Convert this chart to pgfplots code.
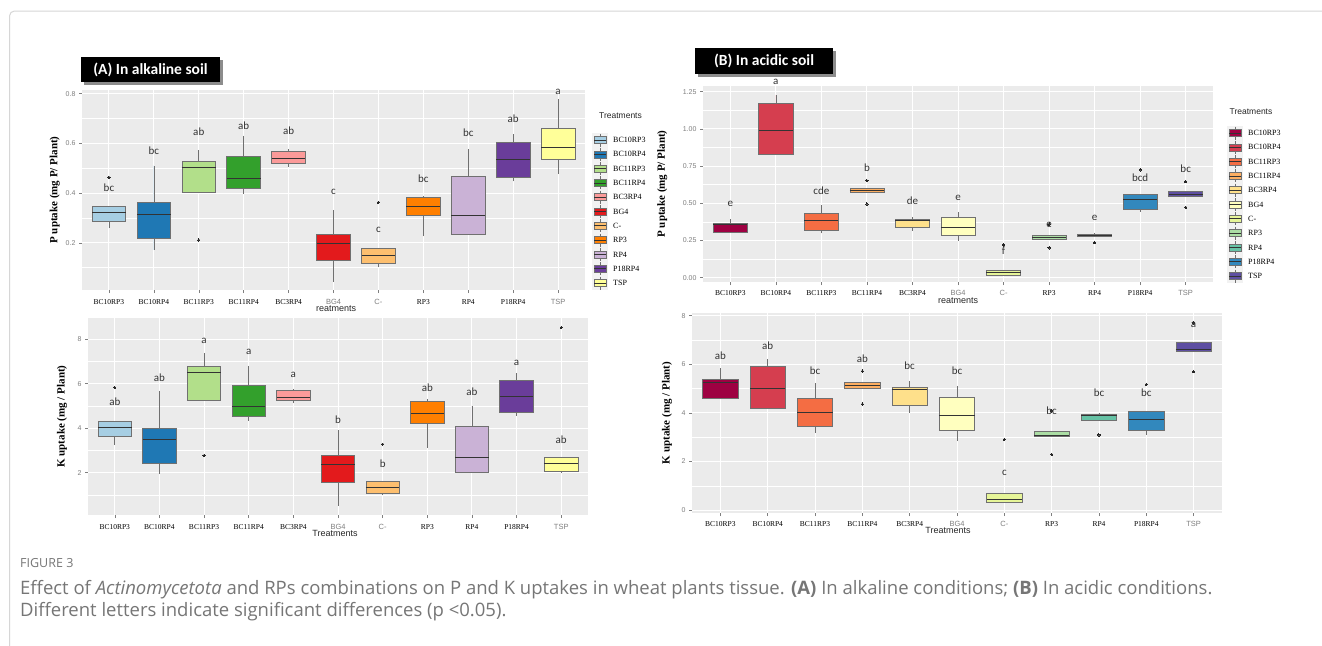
\documentclass[border=0pt]{standalone}
\usepackage{pgfplots}
\pgfplotsset{compat=1.18}
\usepgfplotslibrary{statistics}
\usepackage{fontspec}
\setmainfont{Liberation Serif}
\setsansfont{Liberation Sans}
\newfontfamily\carl{Carlito}
\newfontfamily\osans{Open Sans}

\definecolor{panelbg}{HTML}{EBEBEB}
\definecolor{tickgray}{HTML}{7F7F7F}
\definecolor{boxgray}{HTML}{707070}
\definecolor{labc}{HTML}{333333}
\definecolor{capc}{HTML}{767676}
\definecolor{framec}{HTML}{D6D6D6}
% Paired palette (A)
\definecolor{a1}{HTML}{A6CEE3}\definecolor{a2}{HTML}{1F78B4}\definecolor{a3}{HTML}{B2DF8A}
\definecolor{a4}{HTML}{33A02C}\definecolor{a5}{HTML}{FB9A99}\definecolor{a6}{HTML}{E31A1C}
\definecolor{a7}{HTML}{FDBF6F}\definecolor{a8}{HTML}{FF7F00}\definecolor{a9}{HTML}{CAB2D6}
\definecolor{a10}{HTML}{6A3D9A}\definecolor{a11}{HTML}{FFFF99}
% Spectral palette (B)
\definecolor{b1}{HTML}{9E0142}\definecolor{b2}{HTML}{D53E4F}\definecolor{b3}{HTML}{F46D43}
\definecolor{b4}{HTML}{FDAE61}\definecolor{b5}{HTML}{FEE08B}\definecolor{b6}{HTML}{FFFFBF}
\definecolor{b7}{HTML}{E6F598}\definecolor{b8}{HTML}{ABDDA4}\definecolor{b9}{HTML}{66C2A5}
\definecolor{b10}{HTML}{3288BD}\definecolor{b11}{HTML}{5E4FA2}

\newcommand{\Sx}[2]{\raisebox{#2}{\sffamily\fontsize{7.5}{8}\selectfont\color{tickgray}#1}}
\newcommand{\bx}[8]{\addplot[bxs, fill=#7, boxplot prepared={draw position=#1, lower whisker=#2, lower quartile=#3, median=#4, upper quartile=#5, upper whisker=#6}] coordinates {#8};}

\pgfplotsset{
 panel/.style={scale only axis, anchor=north west, xmin=0.4, xmax=11.6, clip=false,
  axis background/.style={fill=panelbg}, axis line style={draw=none},
  xtick={1,...,11}, xmajorgrids, ymajorgrids, yminorgrids,
  major grid style={white, line width=0.9pt}, minor grid style={white, line width=0.45pt},
  tick style={draw=tickgray, line width=0.5pt}, major tick length=3pt, minor tick length=0pt,
  tick align=outside, xtick pos=bottom, ytick pos=left,
  /pgf/number format/assume math mode=true,
  yticklabel style={font=\sffamily\fontsize{7}{8}\selectfont, text=tickgray},
  xticklabel style={font=\rmfamily\fontsize{7.5}{8}\selectfont, text=black},
  ylabel style={font=\rmfamily\bfseries\fontsize{11}{12}\selectfont, anchor=center},
  xlabel style={font=\sffamily\fontsize{9}{10}\selectfont, text=black!85, anchor=center},
  boxplot/draw direction=y,
  boxplot/whisker extend=0, boxplot/box extend=0.75,
  boxplot/every median/.style={draw=black!80, line width=1pt},
 },
 bxs/.style={draw=boxgray, line width=0.7pt, mark=*, mark size=1.15pt,
  mark options={fill=black!85, draw=black!85, line width=0pt}},
 labs/.style={draw=none, mark=none, nodes near coords, point meta=explicit symbolic,
  every node near coord/.append style={font=\carl\fontsize{11}{12}\selectfont, text=labc, anchor=center, inner sep=0pt}},
}

\begin{document}
\begin{tikzpicture}
\useasboundingbox (0,0) rectangle (1322pt,-645pt);
\fill[white] (0,0) rectangle (1322pt,-645pt);
\draw[framec, line width=1pt, rounded corners=5pt] (9.5pt,-11pt) rectangle (1345pt,-680pt);

% ---------------- A : P uptake, alkaline
\begin{axis}[panel, at={(82pt,-90pt)}, width=503pt, height=200pt,
  ymin=0.01, ymax=0.815, ytick={0.2,0.4,0.6,0.8}, minor ytick={0.1,0.3,0.5,0.7},
  xticklabel style={yshift=-3pt},
  xticklabels={BC10RP3,BC10RP4,BC11RP3,BC11RP4,BC3RP4,\Sx{BG4}{6pt},\Sx{C-}{6pt},RP3,RP4,P18RP4,\Sx{TSP}{6pt}},
  ylabel={P uptake (mg P/ Plant)}, ylabel style={at={(axis description cs:-0.054,0.5)}},
  xlabel={reatments}, xlabel style={at={(axis description cs:0.505,-0.092)}}]
\bx{1}{0.258}{0.288}{0.323}{0.345}{0.345}{a1}{(0,0.464)}
\bx{2}{0.172}{0.218}{0.313}{0.361}{0.511}{a2}{}
\bx{3}{0.404}{0.404}{0.502}{0.527}{0.572}{a3}{(0,0.211)}
\bx{4}{0.398}{0.420}{0.457}{0.548}{0.630}{a4}{}
\bx{5}{0.507}{0.521}{0.540}{0.570}{0.576}{a5}{}
\bx{6}{0.044}{0.131}{0.199}{0.235}{0.332}{a6}{}
\bx{7}{0.104}{0.118}{0.148}{0.177}{0.177}{a7}{(0,0.363)}
\bx{8}{0.226}{0.312}{0.346}{0.382}{0.388}{a8}{}
\bx{9}{0.234}{0.234}{0.309}{0.468}{0.576}{a9}{}
\bx{10}{0.447}{0.463}{0.535}{0.605}{0.637}{a10}{}
\bx{11}{0.475}{0.534}{0.583}{0.660}{0.777}{a11}{}
\addplot[labs] table[meta=t] {
x y t
1 0.420 bc
2 0.572 bc
3 0.646 ab
4 0.673 ab
5 0.653 ab
6 0.404 c
7 0.253 c
8 0.458 bc
9 0.642 bc
10 0.700 ab
11 0.807 a
};
\end{axis}

% ---------------- A : K uptake, alkaline
\begin{axis}[panel, at={(88pt,-318pt)}, width=500pt, height=197pt,
  ymin=0.09, ymax=8.96, ytick={2,4,6,8}, minor ytick={1,3,5,7},
  xticklabel style={yshift=-3pt},
  xticklabels={BC10RP3,BC10RP4,BC11RP3,BC11RP4,BC3RP4,\Sx{BG4}{10pt},\Sx{C-}{8pt},RP3,RP4,P18RP4,\Sx{TSP}{8pt}},
  ylabel={K uptake (mg / Plant)}, ylabel style={at={(axis description cs:-0.052,0.5)}},
  xlabel={Treatments}, xlabel style={at={(axis description cs:0.494,-0.094)}}]
\bx{1}{3.24}{3.62}{4.03}{4.30}{4.30}{a1}{(0,5.83)}
\bx{2}{1.93}{2.42}{3.50}{4.00}{5.68}{a2}{}
\bx{3}{5.24}{5.24}{6.52}{6.80}{7.37}{a3}{(0,2.77)}
\bx{4}{4.33}{4.55}{4.97}{5.92}{6.80}{a4}{}
\bx{5}{5.12}{5.27}{5.39}{5.69}{5.75}{a5}{}
\bx{6}{0.50}{1.55}{2.35}{2.77}{3.92}{a6}{}
\bx{7}{1.00}{1.07}{1.33}{1.60}{1.60}{a7}{(0,3.28)}
\bx{8}{3.10}{4.22}{4.67}{5.22}{5.30}{a8}{}
\bx{9}{2.00}{2.00}{2.67}{4.07}{5.00}{a9}{}
\bx{10}{4.55}{4.72}{5.42}{6.14}{6.47}{a10}{}
\bx{11}{2.00}{2.05}{2.42}{2.67}{2.67}{a11}{(0,8.53)}
\addplot[labs] table[meta=t] {
x y t
1 5.17 ab
2 6.25 ab
3 7.93 a
4 7.42 a
5 6.40 a
6 4.40 b
7 2.38 b
8 5.80 ab
9 5.65 ab
10 6.92 a
11 3.47 ab
};
\end{axis}

% ---------------- B : P uptake, acidic
\begin{axis}[panel, at={(703pt,-86pt)}, width=510pt, height=196pt,
  ymin=-0.029, ymax=1.288, ytick={0,0.25,0.5,0.75,1,1.25}, yticklabels={0.00,0.25,0.50,0.75,1.00,1.25},
  minor ytick={0.125,0.375,0.625,0.875,1.125},
  xticklabel style={yshift=-2pt},
  xticklabels={BC10RP3,BC10RP4,BC11RP3,BC11RP4,BC3RP4,\Sx{BG4}{4pt},\Sx{C-}{4pt},RP3,RP4,P18RP4,\Sx{TSP}{4pt}},
  ylabel={P uptake (mg P/ Plant)}, ylabel style={at={(axis description cs:-0.080,0.5)}},
  xlabel={reatments}, xlabel style={at={(axis description cs:0.50,-0.095)}}]
\bx{1}{0.305}{0.305}{0.360}{0.365}{0.394}{b1}{}
\bx{2}{0.829}{0.829}{0.988}{1.170}{1.228}{b2}{}
\bx{3}{0.298}{0.320}{0.381}{0.432}{0.488}{b3}{}
\bx{4}{0.571}{0.571}{0.585}{0.600}{0.600}{b4}{(0,0.652) (0,0.495)}
\bx{5}{0.314}{0.336}{0.385}{0.392}{0.405}{b5}{}
\bx{6}{0.249}{0.282}{0.336}{0.405}{0.439}{b6}{}
\bx{7}{0.018}{0.018}{0.036}{0.052}{0.052}{b7}{(0,0.220)}
\bx{8}{0.260}{0.260}{0.271}{0.282}{0.282}{b8}{(0,0.360) (0,0.200)}
\bx{9}{0.276}{0.276}{0.285}{0.293}{0.300}{b9}{(0,0.235)}
\bx{10}{0.444}{0.459}{0.526}{0.562}{0.562}{b10}{(0,0.724)}
\bx{11}{0.544}{0.544}{0.556}{0.582}{0.582}{b11}{(0,0.645) (0,0.473)}
\addplot[labs] table[meta=t] {
x y t
1 0.493 e
2 1.317 a
3 0.585 cde
4 0.739 b
5 0.517 de
6 0.533 e
7 0.181 f
8 0.355 e
9 0.399 e
10 0.672 bcd
11 0.730 bc
};
\end{axis}

% ---------------- B : K uptake, acidic
\begin{axis}[panel, at={(692pt,-313pt)}, width=530pt, height=200pt,
  ymin=-0.12, ymax=8.11, ytick={0,2,4,6,8}, minor ytick={1,3,5,7},
  xticklabel style={yshift=-2pt},
  xticklabels={BC10RP3,BC10RP4,BC11RP3,BC11RP4,BC3RP4,\Sx{BG4}{6pt},\Sx{C-}{5pt},RP3,RP4,P18RP4,\Sx{TSP}{5pt}},
  ylabel={K uptake (mg / Plant)}, ylabel style={at={(axis description cs:-0.047,0.5)}},
  xlabel={Treatments}, xlabel style={at={(axis description cs:0.483,-0.088)}}]
\bx{1}{4.60}{4.60}{5.25}{5.39}{5.83}{b1}{}
\bx{2}{4.18}{4.18}{5.00}{5.93}{6.21}{b2}{}
\bx{3}{3.18}{3.46}{4.02}{4.60}{5.21}{b3}{}
\bx{4}{5.00}{5.00}{5.14}{5.24}{5.24}{b4}{(0,5.72) (0,4.36)}
\bx{5}{4.00}{4.32}{4.97}{5.05}{5.31}{b5}{}
\bx{6}{2.84}{3.29}{3.91}{4.64}{5.10}{b6}{}
\bx{7}{0.32}{0.32}{0.44}{0.69}{0.69}{b7}{(0,2.91)}
\bx{8}{3.05}{3.05}{3.06}{3.25}{3.25}{b8}{(0,2.29) (0,4.08)}
\bx{9}{3.70}{3.70}{3.91}{3.95}{4.00}{b9}{(0,3.09)}
\bx{10}{3.11}{3.29}{3.74}{4.05}{4.05}{b10}{(0,5.17)}
\bx{11}{6.52}{6.52}{6.62}{6.90}{6.90}{b11}{(0,5.69) (0,7.70)}
\addplot[labs] table[meta=t] {
x y t
1 6.35 ab
2 6.76 ab
3 5.72 bc
4 6.24 ab
5 5.93 bc
6 5.72 bc
7 1.55 c
8 4.09 bc
9 4.83 bc
10 4.83 bc
11 7.61 a
};
\end{axis}

\begin{scope}[x=1pt,y=-1pt]
% panel titles
\fill[black!45] (83.5,59.5) rectangle (222.5,84.5);
\fill[black] (81,57) rectangle (220,82);
\node[text=white, font=\carl\bfseries\fontsize{15.5}{17}\selectfont, inner sep=0] at (150.5,69.5) {(A) In alkaline soil};
\fill[black!45] (697.5,50.5) rectangle (835.5,76.5);
\fill[black] (695,48) rectangle (833,74);
\node[text=white, font=\carl\bfseries\fontsize{15.5}{17}\selectfont, inner sep=0] at (764,61) {(B) In acidic soil};

% legend A
\node[font=\sffamily\fontsize{8.5}{10}\selectfont, text=black!85, inner sep=0] at (620.5,116) {Treatments};
\fill[black!5] (592,133) rectangle (608,290);
\foreach \c/\n [count=\i from 0] in {a1/BC10RP3,a2/BC10RP4,a3/BC11RP3,a4/BC11RP4,a5/BC3RP4,a6/BG4,a7/C-,a8/RP3,a9/RP4,a10/P18RP4,a11/TSP}{
  \pgfmathsetmacro\yy{140+14.3*\i}
  \draw[boxgray, line width=0.5pt] (600,\yy-6.5) -- (600,\yy+6.5);
  \filldraw[fill=\c, draw=boxgray, line width=0.6pt] (594,\yy-3.5) rectangle (606,\yy+3.5);
  \draw[black!80, line width=0.8pt] (594,\yy) -- (606,\yy);
  \node[anchor=west, font=\rmfamily\fontsize{8}{9}\selectfont, inner sep=0] at (613,\yy) {\n};
}
% legend B
\node[font=\sffamily\fontsize{8.5}{10}\selectfont, text=black!85, inner sep=0] at (1251,112) {Treatments};
\fill[black!5] (1227,126) rectangle (1243,283);
\foreach \c/\n [count=\i from 0] in {b1/BC10RP3,b2/BC10RP4,b3/BC11RP3,b4/BC11RP4,b5/BC3RP4,b6/BG4,b7/C-,b8/RP3,b9/RP4,b10/P18RP4,b11/TSP}{
  \pgfmathsetmacro\yy{133+14.3*\i}
  \draw[boxgray, line width=0.5pt] (1235,\yy-6.5) -- (1235,\yy+6.5);
  \filldraw[fill=\c, draw=boxgray, line width=0.6pt] (1229,\yy-3.5) rectangle (1241,\yy+3.5);
  \draw[black!80, line width=0.8pt] (1229,\yy) -- (1241,\yy);
  \node[anchor=west, font=\rmfamily\fontsize{8}{9}\selectfont, inner sep=0] at (1248,\yy) {\n};
}

% caption
\node[anchor=west, inner sep=0, font=\osans\fontsize{12.5}{15}\selectfont, text=capc] at (20,563) {FIGURE 3};
\node[anchor=west, inner sep=0, font=\osans\fontsize{18.5}{21}\selectfont, text=capc] at (20,590) {Effect of \textit{Actinomycetota} and RPs combinations on P and K uptakes in wheat plants tissue. \textbf{(A)} In alkaline conditions; \textbf{(B)} In acidic conditions.};
\node[anchor=west, inner sep=0, font=\osans\fontsize{18.5}{21}\selectfont, text=capc] at (20,612) {Different letters indicate significant differences (p <0.05).};
\end{scope}
\end{tikzpicture}
\end{document}
